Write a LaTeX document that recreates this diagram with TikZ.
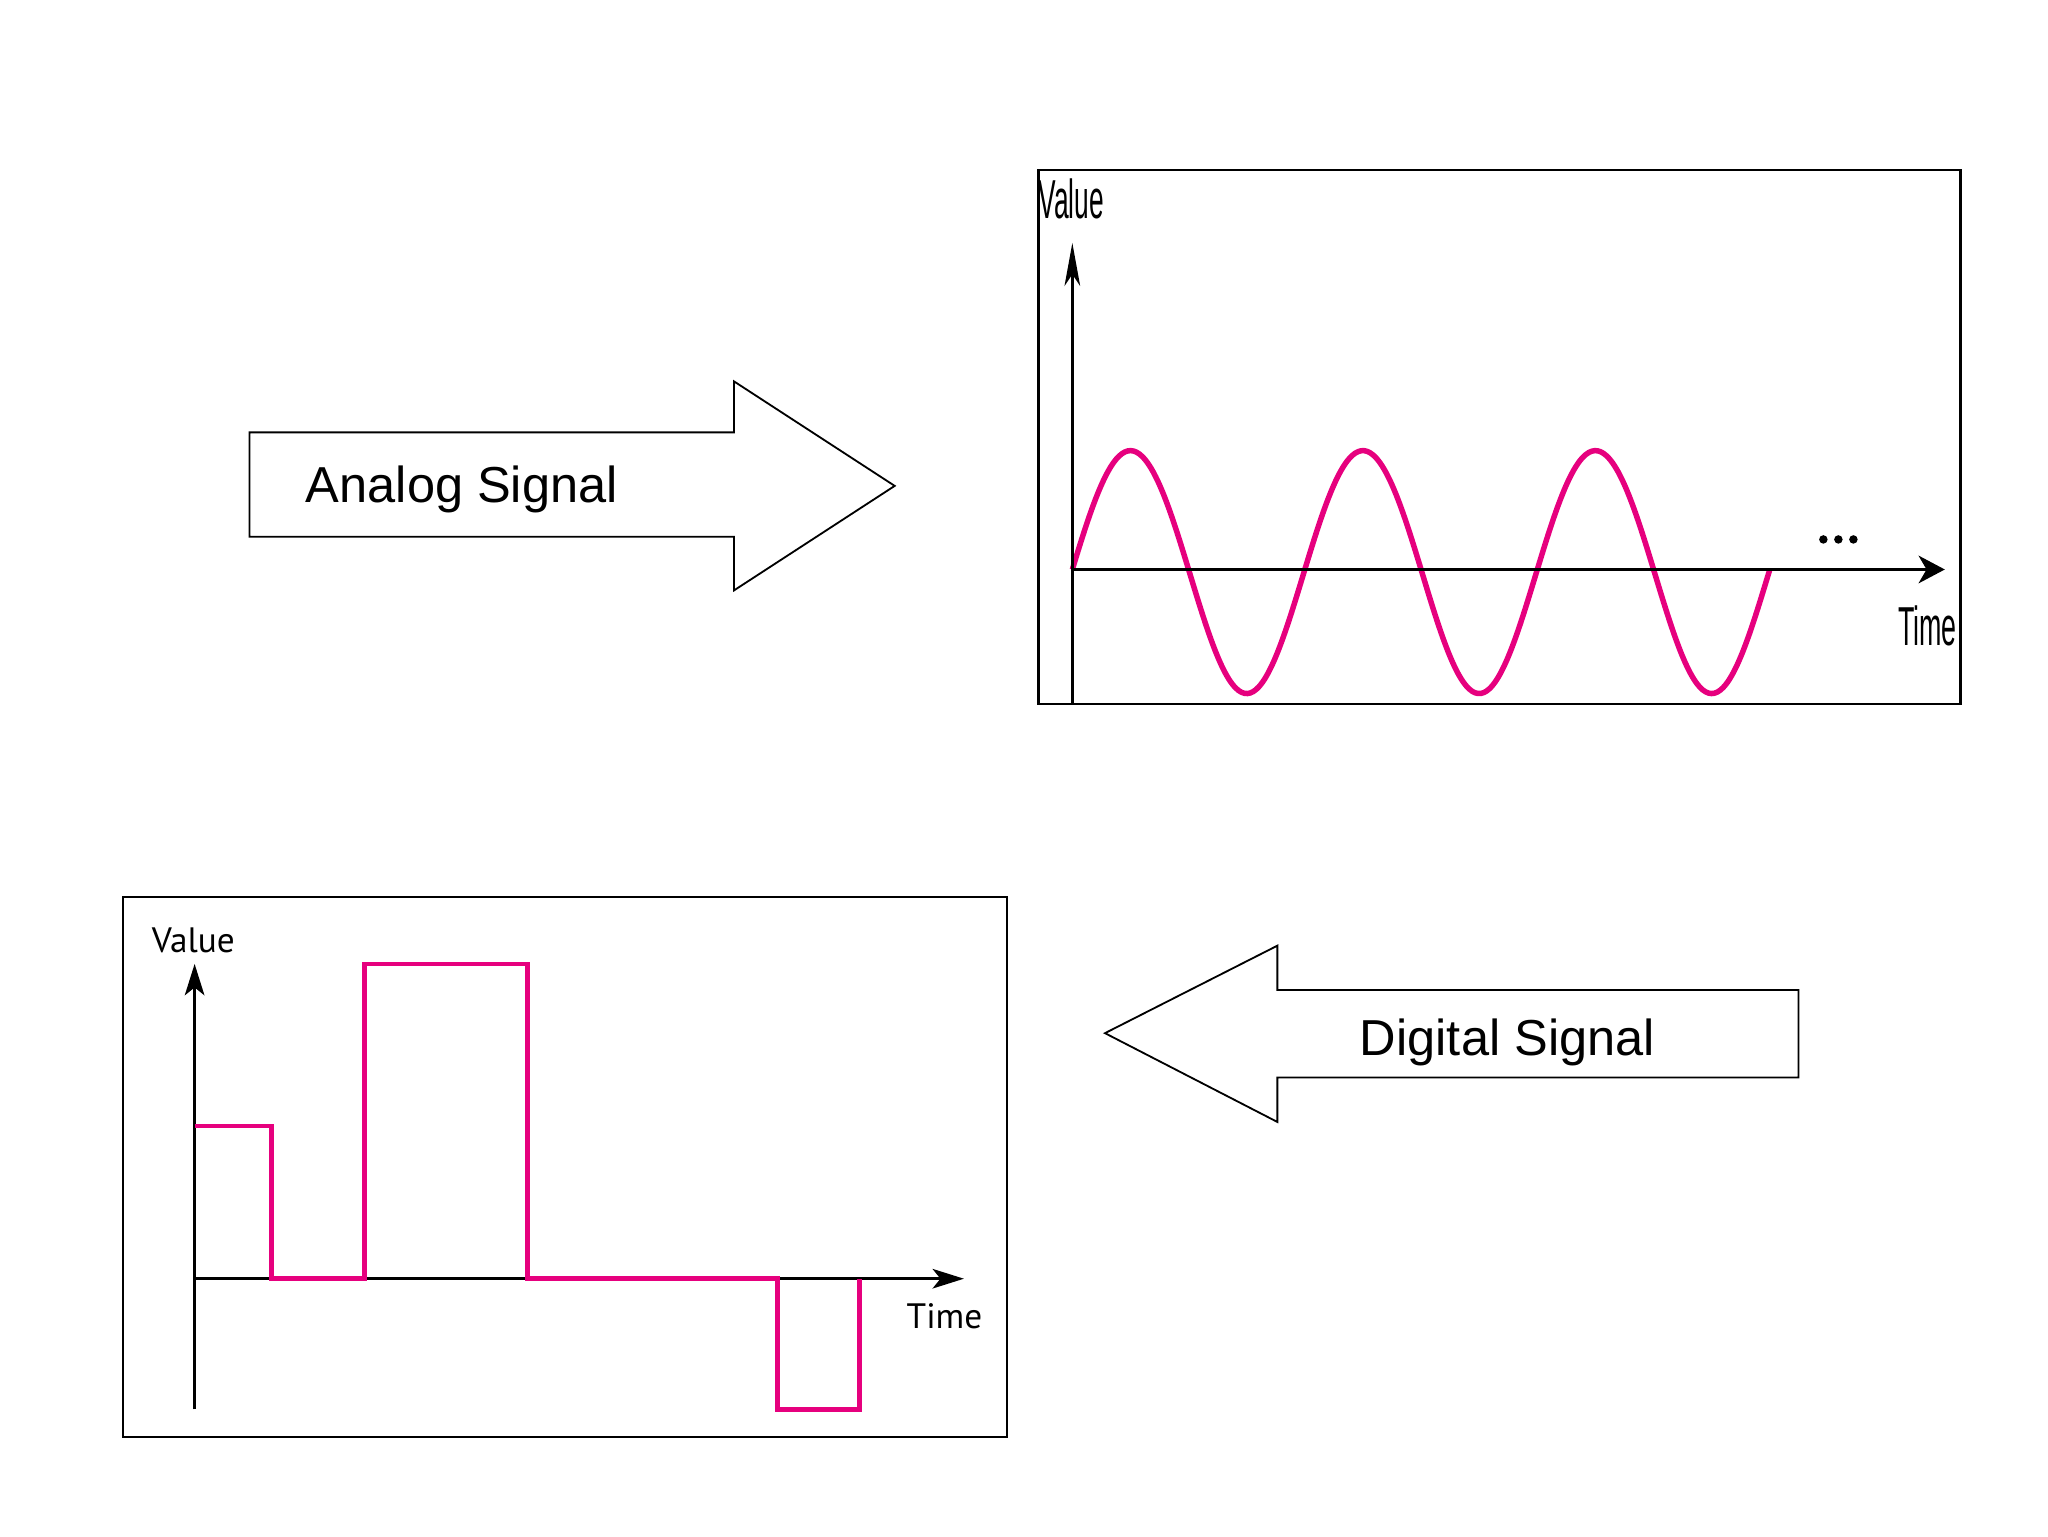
\documentclass[tikz,border=0pt]{standalone}
\usepackage{fontspec}
\setmainfont{Liberation Sans}
\newfontfamily\ptsans{PT Sans}
\usetikzlibrary{arrows.meta}
\definecolor{sigpink}{RGB}{230,0,126}
\begin{document}
\begin{tikzpicture}[x=1pt,y=-1pt,
  frame/.style={draw=black,line width=1.8pt},
  bigarrow/.style={draw=black,line width=1.4pt,line join=miter,fill=white},
  axisA/.style={draw=black,line width=3pt,-{Stealth[length=20pt,width=21pt,inset=6pt]}},
  axisAy/.style={draw=black,line width=1.8pt,-{Stealth[length=33pt,width=12pt,inset=9pt]}},
  axisB/.style={draw=black,line width=2pt,-{Stealth[length=24pt,width=15pt,inset=6pt]}},
  sig/.style={draw=sigpink,line width=4.2pt,line join=miter},
  sigB/.style={draw=sigpink,line width=3.6pt,line join=miter},
  biglbl/.style={font=\fontsize{38.7}{40}\selectfont,inner sep=0pt},
  condlbl/.style={font=\fontsize{42}{44}\selectfont,inner sep=0pt},
  smalllbl/.style={font=\ptsans\fontsize{27}{29}\selectfont,inner sep=0pt},
  dot/.style={circle,fill=black,inner sep=0pt,minimum size=6.5pt}]
\useasboundingbox (0,0) rectangle (1568,1176);
\fill[white] (0,0) rectangle (1568,1176);

% Analog arrow
\draw[bigarrow] (191,331) -- (562,331) -- (562,292) -- (685,372) -- (562,452) -- (562,411) -- (191,411) -- cycle;
\node[biglbl,anchor=base west] (analog) at (234,385) {Analog Signal};

% Digital arrow
\draw[bigarrow] (846,791) -- (978,724) -- (978,758) -- (1377,758) -- (1377,825) -- (978,825) -- (978,859) -- cycle;
\node[biglbl,anchor=base west] (digital) at (1041,808) {Digital Signal};

% Top chart
\draw[frame] (795,130) rectangle (1501,539);
\coordinate (ty0) at (821,539);
\coordinate (ty1) at (821,186);
\coordinate (tx0) at (821,436);
\coordinate (tx1) at (1489,436);
\draw[sig] plot[domain=0:534,samples=240,smooth] ({\x+821},{436-93*sin(\x*2.02247)+2*sin(\x*2.02247)^2});
\draw[axisAy] (ty0) -- (ty1);
\draw[axisA] (tx0) -- (tx1);
\node[condlbl,anchor=base west] (tval) at (795,167) {\scalebox{0.48}[1]{Value}};
\node[condlbl,anchor=base west] (ttime) at (1453,494) {\scalebox{0.49}[1]{Time}};
\node[dot] (d1) at (1396,413) {};
\node[dot] (d2) at (1407.5,413) {};
\node[dot] (d3) at (1419,413) {};

% Bottom chart
\draw[frame] (94,687) rectangle (771,1100);
\coordinate (by0) at (149,1079);
\coordinate (by1) at (149,738);
\coordinate (bx0) at (149,979);
\coordinate (bx1) at (738,979);
\draw[axisB] (by0) -- (by1);
\draw[axisB] (bx0) -- (bx1);
\draw[sigB] (149,862) -- (208,862) -- (208,979) -- (279,979) -- (279,738) -- (404,738) -- (404,979) -- (595,979) -- (595,1079) -- (658,1079) -- (658,979);
\node[smalllbl,anchor=base west] (bval) at (116,729) {Value};
\node[smalllbl,anchor=base west] (btime) at (694,1017) {Time};
\end{tikzpicture}
\end{document}
